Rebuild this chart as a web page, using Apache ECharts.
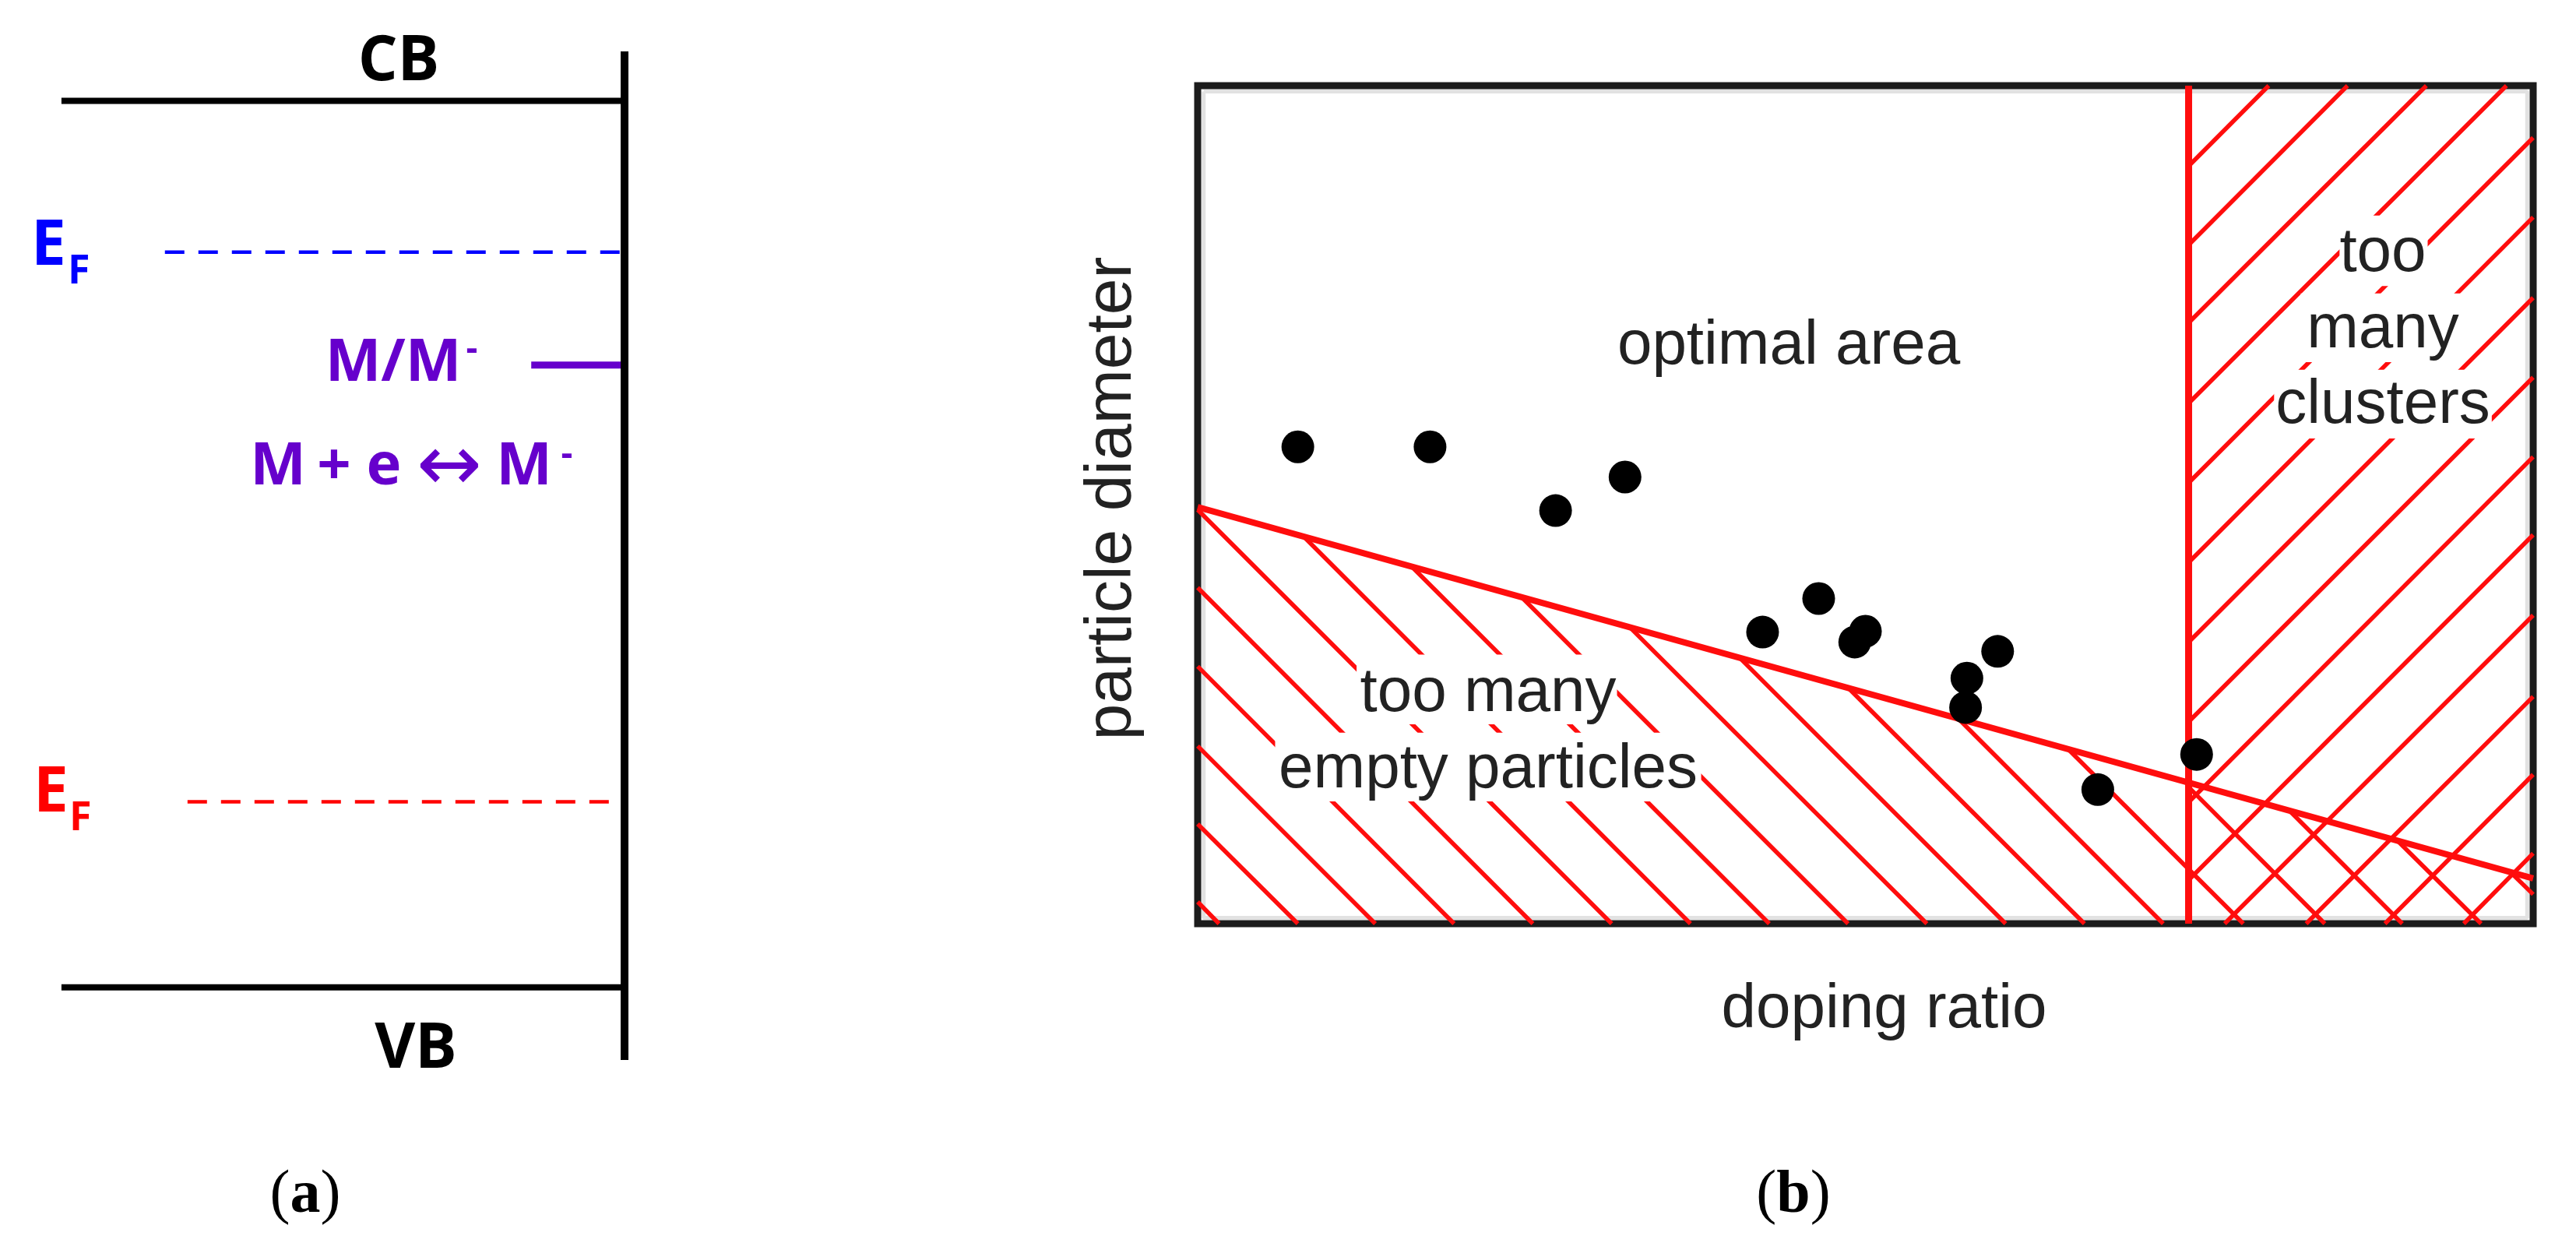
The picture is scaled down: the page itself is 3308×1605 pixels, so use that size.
<!DOCTYPE html>
<html>
<head>
<meta charset="utf-8">
<style>html,body{margin:0;background:#fff}#chart{width:3308px;height:1605px}</style>
<script src="https://cdn.jsdelivr.net/npm/echarts@6/dist/echarts.min.js"></script>
</head>
<body>
<div id="chart"></div>
<script>
// panel (a): band diagram, both axes run 0-100
const bandEdges = [95.1, 7.2];            // CB, VB
const fermiBlue = [[18.7, 80.1], [100, 80.1]];
const fermiRed = [[22.7, 25.6], [98, 25.6]];
const redoxLevel = [[83.5, 68.9], [100, 68.9]];

// panel (b): doping ratio vs particle diameter, both axes run 0-100
const samplePoints = [
  [7.5, 56.9], [17.4, 56.9], [26.8, 49.3], [32.0, 53.3], [42.3, 34.8],
  [46.5, 38.8], [49.2, 33.6], [50.0, 34.9], [57.6, 29.3], [57.5, 25.8],
  [59.9, 32.5], [67.4, 16.0], [74.8, 20.2],
];
const lowerLimit = [[0, 49.7], [100, 5.4]];
const upperLimit = [[74.2, 0], [74.2, 100]];
// pale edge just inside the frame
const frameEdge = [[0.45, 99.3], [0.45, 0.7], [99.55, 0.7], [99.55, 99.3], [0.45, 99.3]];

// hatching: [x0, y0, x1, y1]
const hatchDown = [
  [0, 2.6, 1.6, 0], [0, 11.9, 7.5, 0], [0, 21.2, 13.3, 0], [0, 30.7, 19.2, 0],
  [0, 40.1, 25.1, 0], [0, 49.4, 31.0, 0], [8.0, 46.1, 36.9, 0], [16.1, 42.5, 42.8, 0],
  [24.3, 38.9, 48.7, 0], [32.4, 35.3, 54.6, 0], [40.6, 31.7, 60.5, 0], [48.8, 28.0, 66.4, 0],
  [57.0, 24.4, 72.3, 0], [65.2, 20.8, 78.3, 0], [74.2, 16.3, 84.4, 0], [81.8, 13.4, 90.2, 0],
  [89.9, 9.8, 96.1, 0], [98.4, 6.0, 100, 3.5],
];
const hatchUp = [
  [74.2, 90.4, 80.2, 100], [74.2, 81.0, 86.1, 100], [74.2, 71.7, 92.0, 100], [74.2, 62.1, 98.0, 100],
  [74.2, 52.6, 100, 93.8], [74.2, 43.1, 100, 84.3], [74.2, 33.6, 100, 74.7], [74.2, 24.1, 100, 65.2],
  [74.2, 14.5, 100, 55.7], [74.2, 5.2, 100, 46.4], [76.9, 0, 100, 36.8], [83.0, 0, 100, 27.1],
  [88.9, 0, 100, 17.8], [94.8, 0, 100, 8.4],
];
// hatching is left out behind the region labels: [x0, y0, x1, y1]
const labelGaps = [
  [11.9, 23.8, 31.4, 32.1], [5.8, 14.6, 37.7, 22.8],
  [85.5, 76.1, 92.1, 84.5], [82.6, 67.0, 94.7, 75.2], [80.6, 57.9, 96.9, 66.1],
];

const BLACK = "#000";
const PURPLE = "#6600cc";
const RED = "#ff0d0d";
const TEXT = "#222";
const HEAD = "Open Sans";
const ARIAL = "Liberation Sans";

function label(x, y, text, size, color, family, extra) {
  return {
    type: "text",
    x, y, z: 10,
    style: {
      text, fill: color, fontFamily: family, fontSize: size,
      fontWeight: (extra && extra.weight) || "normal",
      align: (extra && extra.align) || "center", verticalAlign: "middle",
    },
  };
}
function panelTag(x, letter) {
  return {
    type: "text", x, y: 1536, z: 10,
    style: {
      text: "({b|" + letter + "})", fill: BLACK, fontFamily: "Liberation Serif", fontSize: 78,
      align: "center", verticalAlign: "middle",
      rich: { b: { fontFamily: "Liberation Serif", fontSize: 78, fontWeight: "bold", fill: BLACK } },
    },
  };
}
const bold = { weight: "bold" };
const boldLeft = { weight: "bold", align: "left" };

const chart = echarts.init(document.getElementById("chart"), null, { renderer: "canvas" });
chart.setOption({
  backgroundColor: "#fff",
  animation: false,
  grid: [
    { left: 76, top: 66, width: 726, height: 1295 },
    { left: 1538, top: 110, width: 1715, height: 1076, show: true, borderColor: "#1c1c1c", borderWidth: 9, backgroundColor: "#fff" },
  ],
  xAxis: [
    { gridIndex: 0, type: "value", min: 0, max: 100, show: false },
    {
      gridIndex: 1, type: "value", min: 0, max: 100,
      axisLine: { show: false }, axisTick: { show: false }, axisLabel: { show: false }, splitLine: { show: false },
      name: "doping ratio", nameLocation: "middle", nameGap: 71,
      nameTextStyle: { fontFamily: ARIAL, fontSize: 80, color: TEXT, padding: [0, 0, 0, 48] },
    },
  ],
  yAxis: [
    { gridIndex: 0, type: "value", min: 0, max: 100, show: false },
    {
      gridIndex: 1, type: "value", min: 0, max: 100,
      axisLine: { show: false }, axisTick: { show: false }, axisLabel: { show: false }, splitLine: { show: false },
      name: "particle diameter", nameLocation: "middle", nameGap: 67,
      nameTextStyle: { fontFamily: ARIAL, fontSize: 84, color: TEXT, padding: [0, 0, 0, 16] },
    },
  ],
  series: [
    {
      name: "CB", type: "line", xAxisIndex: 0, yAxisIndex: 0, symbol: "none",
      data: [[0.4, bandEdges[0]], [100, bandEdges[0]]], lineStyle: { color: BLACK, width: 8 },
    },
    {
      name: "VB", type: "line", xAxisIndex: 0, yAxisIndex: 0, symbol: "none",
      data: [[0.4, bandEdges[1]], [100, bandEdges[1]]], lineStyle: { color: BLACK, width: 8 },
    },
    {
      name: "surface", type: "line", xAxisIndex: 0, yAxisIndex: 0, symbol: "none", z: 4,
      data: [[100, 0], [100, 100]], lineStyle: { color: BLACK, width: 10 }, clip: false,
    },
    {
      name: "EF high", type: "line", xAxisIndex: 0, yAxisIndex: 0, symbol: "none",
      data: fermiBlue, lineStyle: { color: "#0000ff", width: 4.5, type: [25, 18] },
    },
    {
      name: "EF low", type: "line", xAxisIndex: 0, yAxisIndex: 0, symbol: "none",
      data: fermiRed, lineStyle: { color: "#ff0000", width: 4.5, type: [25, 18] },
    },
    {
      name: "M/M-", type: "line", xAxisIndex: 0, yAxisIndex: 0, symbol: "none",
      data: redoxLevel, lineStyle: { color: PURPLE, width: 9 },
    },
    {
      name: "frame edge", type: "line", xAxisIndex: 1, yAxisIndex: 1, symbol: "none", z: 1,
      data: frameEdge, lineStyle: { color: "#e2e2e2", width: 5 },
    },
    {
      name: "hatch", type: "lines", coordinateSystem: "cartesian2d", xAxisIndex: 1, yAxisIndex: 1, z: 2,
      lineStyle: { color: RED, width: 5.5, opacity: 1 },
      data: hatchDown.concat(hatchUp).map((s) => ({ coords: [[s[0], s[1]], [s[2], s[3]]] })),
    },
    {
      name: "label gaps", type: "custom", xAxisIndex: 1, yAxisIndex: 1, z: 3, silent: true,
      data: labelGaps,
      encode: { x: [0, 2], y: [1, 3] },
      renderItem(params, api) {
        const a = api.coord([api.value(0), api.value(3)]);
        const b = api.coord([api.value(2), api.value(1)]);
        return { type: "rect", shape: { x: a[0], y: a[1], width: b[0] - a[0], height: b[1] - a[1] }, style: { fill: "#fff" } };
      },
    },
    {
      name: "lower limit", type: "line", xAxisIndex: 1, yAxisIndex: 1, symbol: "none", z: 4,
      data: lowerLimit, lineStyle: { color: RED, width: 8 },
    },
    {
      name: "upper limit", type: "line", xAxisIndex: 1, yAxisIndex: 1, symbol: "none", z: 4,
      data: upperLimit, lineStyle: { color: RED, width: 9 },
    },
    {
      name: "samples", type: "scatter", xAxisIndex: 1, yAxisIndex: 1, z: 5,
      symbolSize: 42, data: samplePoints, itemStyle: { color: "#000", opacity: 1 },
    },
  ],
  graphic: [
    label(512, 80, "CB", 80, BLACK, HEAD, bold),
    label(534, 1348, "VB", 80, BLACK, HEAD, bold),
    label(40, 317, "E", 80, "#0000ff", HEAD, boldLeft),
    label(87, 349, "F", 52, "#0000ff", HEAD, boldLeft),
    label(43, 1019, "E", 80, "#ff0000", HEAD, boldLeft),
    label(89, 1051, "F", 52, "#ff0000", HEAD, boldLeft),
    label(505, 467, "M/M", 76, PURPLE, HEAD, bold),
    label(606, 450, "-", 46, PURPLE, HEAD, bold),
    label(357, 600, "M", 76, PURPLE, HEAD, bold),
    label(429, 600, "+", 76, PURPLE, HEAD, bold),
    label(493, 600, "e", 76, PURPLE, HEAD, bold),
    label(577, 603, "\u2194", 100, PURPLE, "DejaVu Sans"),
    label(673, 600, "M", 76, PURPLE, HEAD, bold),
    label(728, 585, "-", 46, PURPLE, HEAD, bold),
    panelTag(392, "a"),
    panelTag(2303, "b"),
    label(2297, 445, "optimal area", 80, TEXT, ARIAL),
    label(1911, 891, "too many", 80, TEXT, ARIAL),
    label(1911, 989, "empty particles", 80, TEXT, ARIAL),
    label(3060, 326, "too", 80, TEXT, ARIAL),
    label(3060, 424, "many", 80, TEXT, ARIAL),
    label(3060, 521, "clusters", 80, TEXT, ARIAL),
  ],
});
</script>
</body>
</html>
